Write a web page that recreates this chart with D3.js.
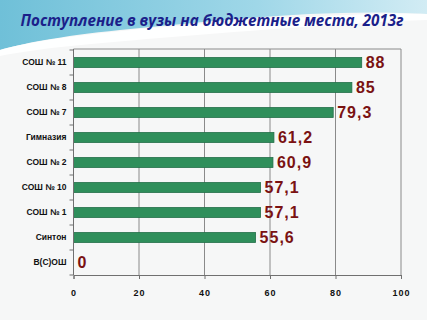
<!DOCTYPE html>
<html>
<head>
<meta charset="utf-8">
<script src="https://cdn.jsdelivr.net/npm/d3@7"></script>
<style>
  body { margin: 0; background: #f6f7f7; }
  svg { display: block; }
</style>
</head>
<body>
<svg id="chart" width="427" height="320"></svg>
<script>
const categories = ['СОШ № 11', 'СОШ № 8', 'СОШ № 7', 'Гимназия', 'СОШ № 2', 'СОШ № 10', 'СОШ № 1', 'Синтон', 'В(С)ОШ'];
const values = [88, 85, 79.3, 61.2, 60.9, 57.1, 57.1, 55.6, 0];
const xTicks = [0, 20, 40, 60, 80, 100];
const title = 'Поступление в вузы на бюджетные места, 2013г';

const svg = d3.select('#chart');
const width = 427, height = 320;
const margin = { top: 50, right: 26, bottom: 45, left: 73.5 };

// background with the blue swoosh on top
const defs = svg.append('defs');
const grad = defs.append('linearGradient')
    .attr('id', 'sky').attr('x1', 0).attr('y1', 0).attr('x2', 1).attr('y2', 0);
grad.append('stop').attr('offset', '0%').attr('stop-color', '#6fc0d8');
grad.append('stop').attr('offset', '60%').attr('stop-color', '#9fd7e8');
grad.append('stop').attr('offset', '100%').attr('stop-color', '#d2ecf4');

svg.append('rect')
    .attr('width', width).attr('height', height)
    .attr('fill', '#f6f7f7');

svg.append('path')
    .attr('d', `M0,0 H${width} V14 C330,8 220,20 120,30 C60,36 20,44 0,50 Z`)
    .attr('fill', 'url(#sky)');

svg.append('path')
    .attr('d', `M0,50 C40,38 120,30 230,22 C320,16 380,12 ${width},14 V20 C360,22 260,30 160,38 C90,44 40,48 0,56 Z`)
    .attr('fill', '#ffffff')
    .attr('opacity', 0.9);

svg.append('text')
    .attr('x', 212)
    .attr('y', 26)
    .attr('text-anchor', 'middle')
    .attr('textLength', 383)
    .attr('lengthAdjust', 'spacingAndGlyphs')
    .style('font-family', '"Open Sans", sans-serif')
    .style('font-size', '16px')
    .style('font-weight', 'bold')
    .style('font-style', 'italic')
    .style('fill', '#1b1f8a')
    .text(title);

const x = d3.scaleLinear()
    .domain([0, 100])
    .range([margin.left, width - margin.right]);

const y = d3.scaleBand()
    .domain(categories)
    .range([margin.top, height - margin.bottom])
    .paddingInner(0.6)
    .paddingOuter(0.3);

const plot = svg.append('g');

// plot frame and gridlines
plot.append('line')
    .attr('x1', x(0)).attr('x2', x(100))
    .attr('y1', margin.top - 1).attr('y2', margin.top - 1)
    .attr('stroke', '#8a8a8a');

plot.selectAll('line.grid')
    .data(xTicks.slice(1))
    .enter()
    .append('line')
    .attr('class', 'grid')
    .attr('x1', d => x(d)).attr('x2', d => x(d))
    .attr('y1', margin.top - 1).attr('y2', height - margin.bottom)
    .attr('stroke', '#8a8a8a');

// bars
plot.selectAll('rect.bar')
    .data(values)
    .enter()
    .append('rect')
    .attr('class', 'bar')
    .attr('x', x(0))
    .attr('y', (d, i) => y(categories[i]))
    .attr('width', d => x(d) - x(0))
    .attr('height', y.bandwidth())
    .attr('fill', '#2f8f5b')
    .attr('stroke', '#24704a')
    .attr('stroke-width', 0.8);

// value labels
plot.selectAll('text.value')
    .data(values)
    .enter()
    .append('text')
    .attr('class', 'value')
    .attr('x', d => x(d) + 4)
    .attr('y', (d, i) => y(categories[i]) + y.bandwidth() / 2)
    .attr('dy', '0.36em')
    .style('font-family', '"Liberation Sans", Arial, sans-serif')
    .style('font-size', '16px')
    .style('font-weight', 'bold')
    .style('letter-spacing', '1px')
    .style('fill', '#7a1212')
    .text(d => String(d).replace('.', ','));

// x axis
const xAxis = svg.append('g')
    .attr('transform', `translate(0,${height - margin.bottom})`)
    .call(d3.axisBottom(x).tickValues(xTicks).tickSize(4).tickPadding(11));
xAxis.select('.domain').attr('stroke', '#707070');
xAxis.selectAll('.tick line').attr('stroke', '#707070');
xAxis.selectAll('text')
    .style('font-family', '"Liberation Sans", Arial, sans-serif')
    .style('font-size', '9px')
    .style('font-weight', 'bold')
    .style('letter-spacing', '1px')
    .style('fill', '#111');

// y axis: ticks sit between categories
const yAxis = svg.append('g')
    .attr('transform', `translate(${x(0)},0)`);
yAxis.append('line')
    .attr('y1', margin.top - 1).attr('y2', height - margin.bottom)
    .attr('stroke', '#707070');

const boundaries = d3.range(categories.length + 1).map(i => margin.top + i * (height - margin.top - margin.bottom) / categories.length);
yAxis.selectAll('line.ytick')
    .data(boundaries)
    .enter()
    .append('line')
    .attr('class', 'ytick')
    .attr('x1', -4).attr('x2', 0)
    .attr('y1', d => d).attr('y2', d => d)
    .attr('stroke', '#707070');

yAxis.selectAll('text.cat')
    .data(categories)
    .enter()
    .append('text')
    .attr('class', 'cat')
    .attr('x', -7)
    .attr('y', d => y(d) + y.bandwidth() / 2)
    .attr('dy', '0.35em')
    .attr('text-anchor', 'end')
    .style('font-family', '"Liberation Sans", Arial, sans-serif')
    .style('font-size', '8.5px')
    .style('font-weight', 'bold')
    .style('fill', '#111')
    .text(d => d);
</script>
</body>
</html>
